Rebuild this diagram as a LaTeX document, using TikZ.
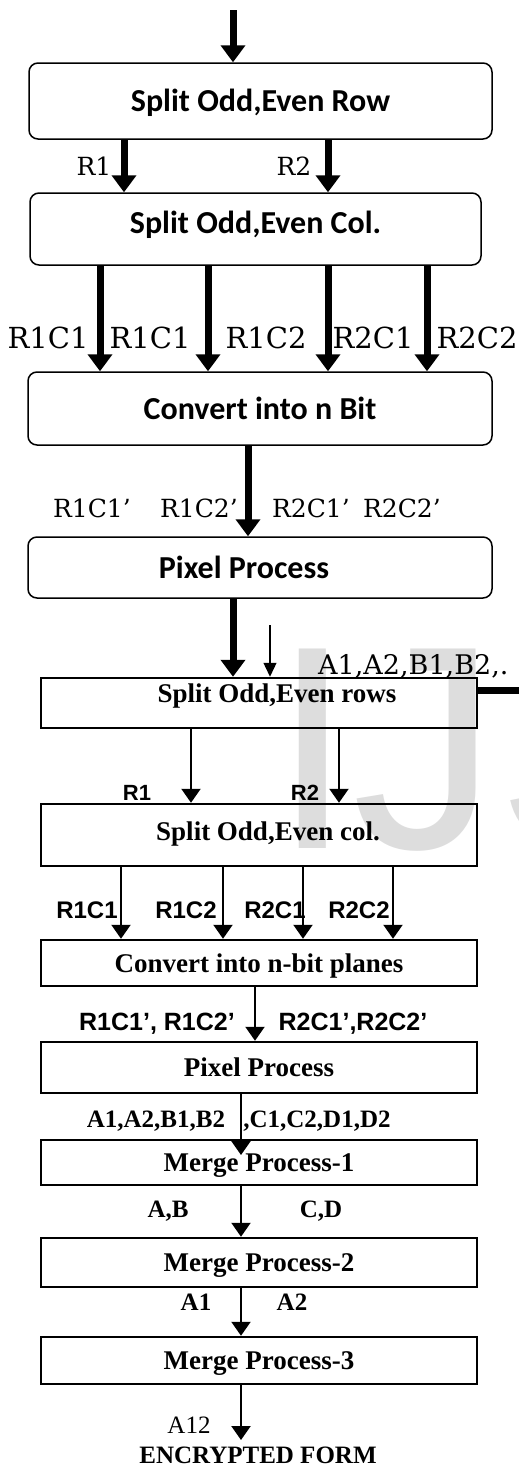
\documentclass[tikz,border=0pt]{standalone}
\usepackage{fontspec}
\setmainfont{Liberation Serif}
\newfontfamily\boxfont{Carlito}
\newfontfamily\oldfont{DejaVu Serif}
\newfontfamily\armfont{Liberation Sans}
\usetikzlibrary{arrows.meta}
\definecolor{markgray}{RGB}{221,221,221}
\tikzset{
  oldbox/.style={rectangle, rounded corners=9pt, draw, line width=1.5pt,
    font=\boxfont\bfseries\fontsize{32}{38}\selectfont,
    text height=21pt, text depth=0pt, inner sep=0pt},
  newbox/.style={rectangle, draw, line width=2.5pt,
    font=\bfseries\fontsize{27}{32}\selectfont,
    minimum width=436pt, text height=18pt, text depth=0pt, inner sep=0pt},
  fatarrow/.style={-{Triangle[width=24pt,length=17pt]}, line width=7pt},
  thinarrow/.style={-{Triangle[width=19pt,length=14pt]}, line width=2.2pt},
  slimarrow/.style={-{Triangle[width=13pt,length=14pt]}, line width=1.3pt},
  oldlbl/.style={anchor=base, inner sep=0pt, font=\oldfont\fontsize{26}{30}\selectfont},
  armlbl/.style={anchor=base, inner sep=0pt, font=\armfont\bfseries\fontsize{24}{28}\selectfont},
  serlbl/.style={anchor=base, inner sep=0pt, font=\bfseries\fontsize{25}{30}\selectfont},
}
\begin{document}
\begin{tikzpicture}[x=1pt, y=-1pt]
\useasboundingbox (0,0) rectangle (519,1468);

% faint letters behind the lower chart
\node[anchor=base west, inner sep=0pt, text=markgray,
  font=\armfont\fontsize{290}{290}\selectfont] (mark) at (272,848) {IJS};

% first chart: rounded blocks
\node[oldbox, minimum width=463pt, minimum height=76pt] (row) at (260.5,101) {Split Odd,Even Row};
\node[oldbox, minimum width=451pt, minimum height=72pt, text depth=12pt] (col) at (255.5,229) {Split Odd,Even Col.};
\node[oldbox, minimum width=464pt, minimum height=73pt] (nbit) at (260,408.5) {Convert into n Bit};
\node[oldbox, minimum width=464pt, minimum height=61pt] (pix) at (260,567.5) {\hspace*{-32pt}Pixel Process};

% second chart: plain blocks
\node[newbox, minimum height=50pt, text depth=20pt] (rows) at (259,703) {\hspace*{36pt}Split Odd,Even rows};
\node[newbox, minimum height=62pt, text depth=8pt] (cols) at (259,835) {\hspace*{18pt}Split Odd,Even col.};
\node[newbox, minimum height=46pt] (planes) at (259,963) {Convert into n-bit planes};
\node[newbox, minimum height=51pt] (pixel) at (259,1067.5) {Pixel Process};
\node[newbox, minimum height=45pt] (merge1) at (259,1162.5) {Merge Process-1};
\node[newbox, minimum height=49pt] (merge2) at (259,1262.5) {Merge Process-2};
\node[newbox, minimum height=47pt] (merge3) at (259,1360.5) {Merge Process-3};

% arrows of the first chart
\coordinate (in) at (233,10);
\draw[fatarrow] (in) -- (in |- row.north);
\foreach \x in {124,328}
  \draw[fatarrow] (\x,0 |- row.south) -- (\x,0 |- col.north);
\foreach \x in {100,208,328,427}
  \draw[fatarrow] (\x,0 |- col.south) -- (\x,0 |- nbit.north);
\draw[fatarrow] (248,0 |- nbit.south) -- (248,0 |- pix.north);
\draw[fatarrow] (233,0 |- pix.south) -- (233,0 |- rows.north);
\coordinate (side) at (270,625);
\draw[slimarrow] (side) -- (side |- rows.north);
\coordinate (exit) at (519,690);
\draw[line width=7pt] (rows.east |- exit) -- (exit);

\foreach \t/\x [count=\i] in {R1/94, R2/294}
  \node[oldlbl, font=\oldfont\fontsize{25}{30}\selectfont] (r\i) at (\x,175) {\t};
\foreach \t/\x [count=\i] in {R1C1/48, R1C1/150, R1C2/266, R2C1/373, R2C2/477}
  \node[oldlbl, font=\oldfont\fontsize{29}{34}\selectfont] (rc\i) at (\x,348) {\t};
\foreach \t/\x [count=\i] in {R1C1’/92, R1C2’/199, R2C1’/311, R2C2’/402}
  \node[oldlbl, font=\oldfont\fontsize{25}{30}\selectfont] (rcp\i) at (\x,517) {\t};
\node[oldlbl, anchor=base west, font=\oldfont\fontsize{27}{32}\selectfont] (ab) at (318,674) {A1,A2,B1,B2,.};

% arrows of the second chart
\foreach \x in {191,339}
  \draw[thinarrow] (\x,0 |- rows.south) -- (\x,0 |- cols.north);
\foreach \x in {121,223,303,393}
  \draw[thinarrow] (\x,0 |- cols.south) -- (\x,0 |- planes.north);
\draw[thinarrow] (255,0 |- planes.south) -- (255,0 |- pixel.north);
\coordinate (dip) at (241,1155);
\draw[thinarrow] (pixel.south -| dip) -- (dip);
\draw[thinarrow] (241,0 |- merge1.south) -- (241,0 |- merge2.north);
\draw[thinarrow] (241,0 |- merge2.south) -- (241,0 |- merge3.north);
\coordinate (done) at (241,1440);
\draw[thinarrow] (merge3.south -| done) -- (done);

\foreach \t/\x [count=\i] in {R1/137, R2/305}
  \node[armlbl, font=\armfont\bfseries\fontsize{22}{26}\selectfont] (s\i) at (\x,800) {\t};
\foreach \t/\x [count=\i] in {R1C1/87, R1C2/186, R2C1/275, R2C2/359}
  \node[armlbl] (sc\i) at (\x,918) {\t};
\node[armlbl, font=\armfont\bfseries\fontsize{25}{30}\selectfont] (scp1) at (157,1030) {R1C1’, R1C2’};
\node[armlbl, font=\armfont\bfseries\fontsize{25}{30}\selectfont] (scp2) at (353,1030) {R2C1’,R2C2’};
\node[serlbl] (ab1) at (156,1127) {A1,A2,B1,B2};
\node[serlbl] (cd1) at (317,1127) {,C1,C2,D1,D2};
\node[serlbl] (ab2) at (168,1217) {A,B};
\node[serlbl] (cd2) at (321,1217) {C,D};
\node[serlbl] (a1) at (196,1310) {A1};
\node[serlbl] (a2) at (292,1310) {A2};
\node[serlbl, font=\fontsize{25}{30}\selectfont] (a12) at (189,1433) {A12};
\node[serlbl] (enc) at (258,1463) {ENCRYPTED FORM};
\end{tikzpicture}
\end{document}
